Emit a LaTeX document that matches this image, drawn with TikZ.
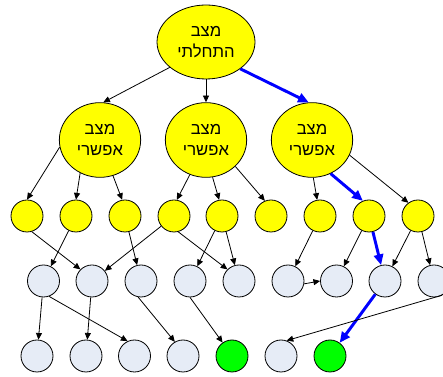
\documentclass[tikz,border=0pt]{standalone}
\usepackage{fontspec}
\usetikzlibrary{arrows.meta,shapes.geometric}
\newfontfamily\hebfont[Script=Hebrew]{Liberation Sans}
\TeXXeTstate=1
\definecolor{stateyellow}{HTML}{FFFF00}
\definecolor{goalgreen}{HTML}{00FF00}
\definecolor{leafgray}{HTML}{E6ECF6}
\definecolor{pathblue}{HTML}{0000FF}
\newcommand\hebline[1]{\beginR#1\endR}

\begin{document}
\begin{tikzpicture}[x=0.75pt,y=-0.75pt,
  bigstate/.style={ellipse,draw,line width=0.6pt,fill=stateyellow,inner sep=0pt,align=center,
    font=\hebfont\fontsize{12.5}{16}\selectfont},
  dot/.style={circle,draw,line width=0.6pt,inner sep=0pt,minimum size=24pt},
  link/.style={-{Triangle[length=5pt,width=4.5pt]},line width=0.6pt},
  bestlink/.style={-{Triangle[length=8pt,width=7pt]},line width=2.2pt,pathblue}]
  \clip (0,0) rectangle (443,377);

  % start and first choices
  \node[bigstate,minimum width=73.5pt,minimum height=55.5pt] (start) at (206,42)
    {\hebline{מצב}\\\hebline{התחלתי}};
  \foreach \n/\x in {1/100,2/206,3/312}
    \node[bigstate,minimum width=61pt,minimum height=56pt] (opt\n) at (\x,140)
      {\hebline{מצב}\\\hebline{אפשרי}};

  % rows of small states
  \foreach \n/\x in {1/27,2/76,3/125,4/174,5/222,6/271,7/320,8/369,9/418}
    \node[dot,fill=stateyellow] (p\n) at (\x,216) {};
  \foreach \n/\x in {1/43.5,2/92,3/141,4/190,5/239,6/288,7/336.5,8/385,9/434}
    \node[dot,fill=leafgray] (q\n) at (\x,281) {};
  \foreach \n/\x/\c in {1/37/leafgray,2/86/leafgray,3/134.5/leafgray,4/183/leafgray,
                        5/232/goalgreen,6/281/leafgray,7/330/goalgreen}
    \node[dot,fill=\c] (r\n) at (\x,356) {};

  % top level
  \draw[link] (start.-145) -- (opt1.85);
  \draw[link] (start.south) -- (opt2.north);
  \draw[bestlink] (start.-38) -- (opt3.95);

  \draw[link] (opt1.190) -- (p1.north);
  \draw[link] (opt1.-121) -- (p2.north);
  \draw[link] (opt1.-70) -- (p3.100);
  \draw[link] (opt2.-115) -- (p4.80);
  \draw[link] (opt2.-80) -- (p5.100);
  \draw[link] (opt2.-42) -- (p6.112);
  \draw[link] (opt3.-88) -- (p7.100);
  \draw[bestlink] (opt3.-61) -- (p8.112);
  \draw[link] (opt3.-22) -- (p9.126);

  % yellow row to gray row
  \draw[link] (p1.-73) -- (q2.135);
  \draw[link] (p2) -- (q1);
  \draw[link] (p3) -- (q3);
  \draw[link] (p4) -- (q2);
  \draw[link] (p4.-75) -- (q5.135);
  \draw[link] (p5) -- (q4);
  \draw[link] (p5) -- (q5);
  \draw[link] (p7) -- (q6);
  \draw[link] (p8) -- (q7);
  \draw[bestlink] (p8) -- (q8);
  \draw[link] (p9) -- (q8);
  \draw[link] (p9) -- (q9);
  \draw[link] (q6.-10) -- (q7.west);

  % gray row to bottom row
  \draw[link] (q1) -- (r1);
  \draw[link] (q1.-70) -- (r3.115);
  \draw[link] (q2) -- (r2);
  \draw[link] (q3.-100) -- (r4.120);
  \draw[link] (q4.south) -- (r5.125);
  \draw[bestlink] (q8) -- (r7);
  \draw[link] (q9.-60) -- (r6.70);
\end{tikzpicture}
\end{document}
